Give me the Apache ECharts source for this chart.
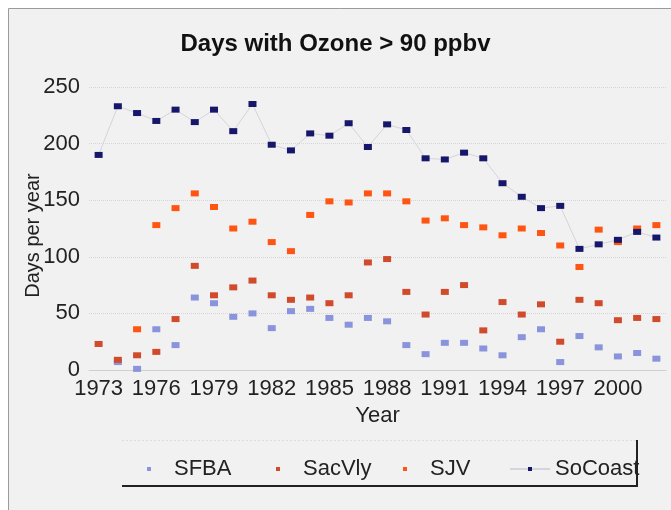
<!DOCTYPE html>
<html>
<head>
<meta charset="utf-8">
<script src="https://cdn.jsdelivr.net/npm/echarts@6/dist/echarts.min.js"></script>
<style>
  html, body { margin: 0; padding: 0; background: #fff; }
  #main { width: 671px; height: 510px; }
</style>
</head>
<body>
<div id="main"></div>
<script>
// years on the x axis
var years = [];
for (var y = 1973; y <= 2002; y++) years.push(String(y));

var sfba    = [null, 7, 1, 36, 22, 64, 59, 47, 50, 37, 52, 54, 46, 40, 46, 43, 22, 14, 24, 24, 19, 13, 29, 36, 7, 30, 20, 12, 15, 10];
var sacVly  = [23, 9, 13, 16, 45, 92, 66, 73, 79, 66, 62, 64, 59, 66, 95, 98, 69, 49, 69, 75, 35, 60, 49, 58, 25, 62, 59, 44, 46, 45];
var sjv     = [null, null, 36, 128, 143, 156, 144, 125, 131, 113, 105, 137, 149, 148, 156, 156, 149, 132, 134, 128, 126, 119, 125, 121, 110, 91, 124, 113, 125, 128];
var soCoast = [190, 233, 227, 220, 230, 219, 230, 211, 235, 199, 194, 209, 207, 218, 197, 217, 212, 187, 186, 192, 187, 165, 153, 143, 145, 107, 111, 115, 122, 117];

var yTicks = [0, 50, 100, 150, 200, 250];

var font = 'Liberation Sans, Arial, sans-serif';
var chart = echarts.init(document.getElementById('main'));

function mk(name, data, color, lineColor) {
  return {
    name: name,
    type: 'line',
    data: data,
    symbol: 'rect',
    symbolSize: [8, 6],
    connectNulls: false,
    itemStyle: { color: color },
    lineStyle: { color: lineColor || color, width: 1, opacity: lineColor ? 1 : 0 },
    emphasis: { disabled: true },
    animation: false
  };
}

function leg(name, left) {
  return {
    data: [name],
    left: left,
    top: 453,
    itemWidth: 40,
    itemHeight: 5,
    textStyle: { fontFamily: font, fontSize: 22, color: '#222' }
  };
}

var option = {
  backgroundColor: '#ffffff',
  animation: false,
  title: {
    text: 'Days with Ozone > 90 ppbv',
    left: 'center',
    top: 27,
    textStyle: { fontFamily: font, fontSize: 24, fontWeight: 'bold', color: '#111' }
  },
  graphic: [
    { type: 'rect', z: -10, shape: { x: 8.5, y: 8.5, width: 700, height: 600 },
      style: { fill: '#f1f1f1', stroke: '#9a9a9a', lineWidth: 1 } },
    { type: 'line', shape: { x1: 122, y1: 486, x2: 638, y2: 486 },
      style: { stroke: '#222', lineWidth: 2 } },
    { type: 'line', shape: { x1: 637, y1: 440, x2: 637, y2: 487 },
      style: { stroke: '#222', lineWidth: 2 } },
    { type: 'line', shape: { x1: 122, y1: 440.5, x2: 638, y2: 440.5 },
      style: { stroke: '#dcdcdc', lineWidth: 1, lineDash: [2, 2] } }
  ],
  legend: [
    leg('SFBA', 123),
    leg('SacVly', 252),
    leg('SJV', 379),
    leg('SoCoast', 504)
  ],
  grid: { left: 89, right: 5, top: 87, bottom: 140, containLabel: false },
  xAxis: {
    type: 'category',
    data: years,
    boundaryGap: true,
    name: 'Year',
    nameLocation: 'middle',
    nameGap: 35,
    nameMoveOverlap: false,
    nameTextStyle: { fontFamily: font, fontSize: 22, color: '#222' },
    axisLine: { lineStyle: { color: '#cfcfcf' } },
    axisTick: { show: false },
    axisLabel: { interval: 2, margin: 8, fontFamily: font, fontSize: 22, color: '#222' },
    splitLine: { show: false }
  },
  yAxis: {
    type: 'value',
    min: yTicks[0],
    max: yTicks[yTicks.length - 1],
    interval: 50,
    name: 'Days per year',
    nameLocation: 'middle',
    nameGap: 46,
    nameRotate: 90,
    nameMoveOverlap: false,
    nameTextStyle: { fontFamily: font, fontSize: 20, color: '#222', padding: [0, 14, 0, 0] },
    axisLine: { show: false },
    axisTick: { show: false },
    axisLabel: { margin: 9, fontFamily: font, fontSize: 22, color: '#222' },
    splitLine: { lineStyle: { color: '#d6d6d6', type: 'dotted' } }
  },
  series: [
    mk('SFBA', sfba, '#8a94dc'),
    mk('SacVly', sacVly, '#cf4b2c'),
    mk('SJV', sjv, '#ff5512'),
    mk('SoCoast', soCoast, '#16166a', '#d4d4dc')
  ]
};

chart.setOption(option);
</script>
</body>
</html>
